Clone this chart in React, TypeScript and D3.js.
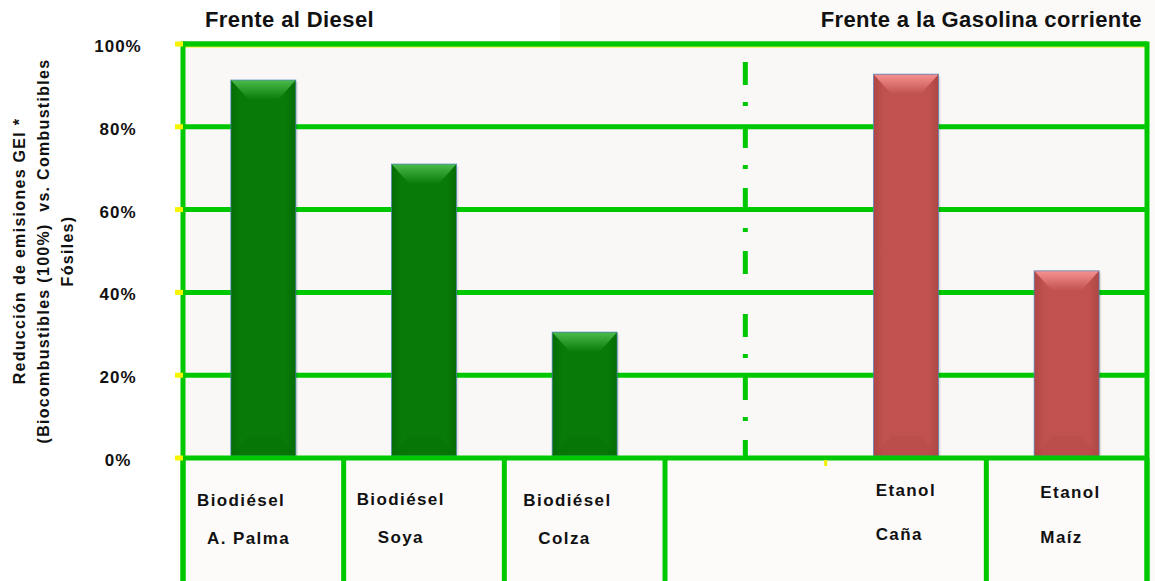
import React from "react";
import * as d3 from "d3";

// ---- data ----
const categories = ["Biodiésel A. Palma", "Biodiésel Soya", "Biodiésel Colza", "Etanol Caña", "Etanol Maíz"];
const values = [91.3, 71, 30.4, 92.7, 45.2];
const groups = ["diesel", "diesel", "diesel", "gasolina", "gasolina"];
const labelLine1 = ["Biodiésel", "Biodiésel", "Biodiésel", "Etanol", "Etanol"];
const labelLine2 = ["A. Palma", "Soya", "Colza", "Caña", "Maíz"];
const yTicks = [0, 20, 40, 60, 80, 100];
const yTickLabels = ["0%", "20%", "40%", "60%", "80%", "100%"];
const groupTitles = ["Frente al Diesel", "Frente a la Gasolina corriente"];
const yTitleLines = ["Reducción de emisiones GEI *", "(Biocombustibles (100%)  vs. Combustibles", "Fósiles)"];

const W = 1155;
const H = 581;
const DIVIDER = "__divider__";
const slotDomain = [...categories.slice(0, 3), DIVIDER, ...categories.slice(3)];

const GREEN = "#00c800";
const FONT = "'Liberation Sans', Arial, Helvetica, sans-serif";

// label offsets inside slot (style/layout)
const line1Dx = [14, 13, 19, 50, 54];
const line2Dx = [24, 34, 34, 50, 54];
const line1Y = [506, 505, 506, 496, 498];
const line2Y = [544, 543, 544, 540, 543];

const palette: Record<string, { main: string; dark: string; light: string; side: string }> = {
  diesel: { main: "#077a07", dark: "#045a04", light: "#4cbc4c", side: "#066c06" },
  gasolina: { main: "#c0514e", dark: "#9a3a38", light: "#f79292", side: "#ad4744" },
};

export default function App() {
  const x = d3.scaleBand<string>().domain(slotDomain).range([183, 1147]).padding(0);
  const y = d3.scaleLinear().domain([0, 100]).range([458, 44]);
  const barW = 65;
  const step = x.step();
  const boundaries = d3.range(slotDomain.length + 1).map((i) => 183 + i * step);
  const caIdx = slotDomain.indexOf(categories[3]);
  const boxLines = boundaries.filter((_, i) => i !== caIdx);

  const dividerX = (x(DIVIDER) as number) + x.bandwidth() / 2;

  return (
    <svg
      width={W}
      height={H}
      style={{ position: "absolute", left: 0, top: 0, background: "#ffffff" }}
      fontFamily={FONT}
    >
      <defs>
        {Object.entries(palette).map(([k, p]) => (
          <React.Fragment key={k}>
            <linearGradient id={`side-${k}`} x1="0" x2="1" y1="0" y2="0">
              <stop offset="0" stopColor={p.side} />
              <stop offset="0.15" stopColor={p.main} />
              <stop offset="0.85" stopColor={p.main} />
              <stop offset="1" stopColor={p.side} />
            </linearGradient>
            <linearGradient id={`top-${k}`} x1="0" x2="0" y1="0" y2="1">
              <stop offset="0" stopColor={p.light} />
              <stop offset="1" stopColor={p.main} />
            </linearGradient>
          </React.Fragment>
        ))}
      </defs>

      {/* backgrounds */}
      <path d="M 560 0 L 1155 0 L 1155 581 L 560 581 Z" fill="#fbfaf8" />
      <rect x={183} y={44} width={964} height={414} fill="#f9f8f6" />
      <rect x={183} y={458} width={964} height={123} fill="#fcfbfa" />

      {/* horizontal gridlines */}
      {yTicks.filter((t) => t !== 0).map((t) => (
        <line key={t} x1={183} x2={1147} y1={y(t)} y2={y(t)} stroke={GREEN} strokeWidth={5} />
      ))}
      {/* thin yellow line under top border */}
      <line x1={185} x2={1145} y1={y(100) + 3} y2={y(100) + 3} stroke="#f2f200" strokeWidth={1} />

      {/* dash-dot divider */}
      <line
        x1={dividerX}
        x2={dividerX}
        y1={y(100)}
        y2={y(0)}
        stroke={GREEN}
        strokeWidth={5}
        strokeDasharray="23,17,4,19"
        strokeDashoffset={45}
      />

      {/* bars */}
      {categories.map((c, i) => {
        const p = palette[groups[i]];
        const k = groups[i];
        const cx = (x(c) as number) + x.bandwidth() / 2;
        const x0 = cx - barW / 2;
        const x1 = cx + barW / 2;
        const yt = y(values[i]);
        const yb = y(0) - 2;
        const b = Math.min(18, (yb - yt) / 2);
        const bv = Math.min(20, (yb - yt) / 2);
        return (
          <g key={c}>
            <rect x={x0 + 2} y={yt + 2} width={barW} height={yb - yt} fill="#000" opacity={0.1} />
            <rect x={x0} y={yt} width={barW} height={yb - yt} fill={`url(#side-${k})`} />
            <polygon
              points={`${x0},${yt} ${x1},${yt} ${x1 - b},${yt + bv} ${x0 + b},${yt + bv}`}
              fill={`url(#top-${k})`}
            />
            <polygon
              points={`${x0},${yb} ${x1},${yb} ${x1 - b},${yb - bv} ${x0 + b},${yb - bv}`}
              fill={p.dark}
              opacity={0.12}
            />
            <rect
              x={x0}
              y={yt}
              width={barW}
              height={yb - yt}
              fill="none"
              stroke="#4f81bd"
              strokeWidth={1}
              opacity={0.7}
            />
          </g>
        );
      })}

      {/* frame: left border, top border, base line, right border */}
      <line x1={183} x2={183} y1={y(100) - 2.5} y2={H} stroke={GREEN} strokeWidth={5} />
      <line x1={1147} x2={1147} y1={y(100) - 2.5} y2={H} stroke={GREEN} strokeWidth={5} />
      <line x1={183} x2={1147} y1={y(100)} y2={y(100)} stroke={GREEN} strokeWidth={5} />
      <line x1={183} x2={1147} y1={y(0)} y2={y(0)} stroke={GREEN} strokeWidth={5} />

      {/* x ticks (yellow) */}
      {boundaries.map((bx, i) => (
        <rect key={`xt${i}`} x={bx - 1.5} y={y(0) + 2} width={3} height={6} fill="#f0f000" />
      ))}

      {/* category boxes */}
      {boxLines.map((bx, i) => (
        <line key={`bl${i}`} x1={bx} x2={bx} y1={y(0)} y2={H} stroke={GREEN} strokeWidth={5} />
      ))}

      {/* y ticks (yellow) and labels */}
      {yTicks.map((t, i) => (
        <g key={`yt${t}`}>
          <rect x={175} y={y(t) - 2.5} width={8} height={5} fill="#f5f500" />
          <text
            x={118}
            y={y(t) + 8}
            textAnchor="middle"
            fontSize={17}
            fontWeight="bold"
            letterSpacing={1}
            fill="#111"
          >
            {yTickLabels[i]}
          </text>
        </g>
      ))}

      {/* y title */}
      <g transform={`translate(0, ${(y(0) + y(100)) / 2}) rotate(-90)`}>
        {yTitleLines.map((ln, i) => (
          <text
            key={i}
            x={0}
            y={25 + i * 24}
            textAnchor="middle"
            fontSize={16}
            fontWeight="bold"
            letterSpacing={1.3}
            fill="#111"
            style={{ whiteSpace: "pre" }}
          >
            {ln}
          </text>
        ))}
      </g>

      {/* group titles */}
      <text x={205} y={27} fontSize={22} fontWeight="bold" letterSpacing={0.4} fill="#111">
        {groupTitles[0]}
      </text>
      <text x={1142} y={27} textAnchor="end" fontSize={22} fontWeight="bold" letterSpacing={0.4} fill="#111">
        {groupTitles[1]}
      </text>

      {/* category labels */}
      {categories.map((c, i) => {
        const sx = x(c) as number;
        return (
          <g key={`lab${i}`} fontSize={17} fontWeight="bold" fill="#111" letterSpacing={1.4}>
            <text x={sx + line1Dx[i]} y={line1Y[i]}>
              {labelLine1[i]}
            </text>
            <text x={sx + line2Dx[i]} y={line2Y[i]}>
              {labelLine2[i]}
            </text>
          </g>
        );
      })}
    </svg>
  );
}
